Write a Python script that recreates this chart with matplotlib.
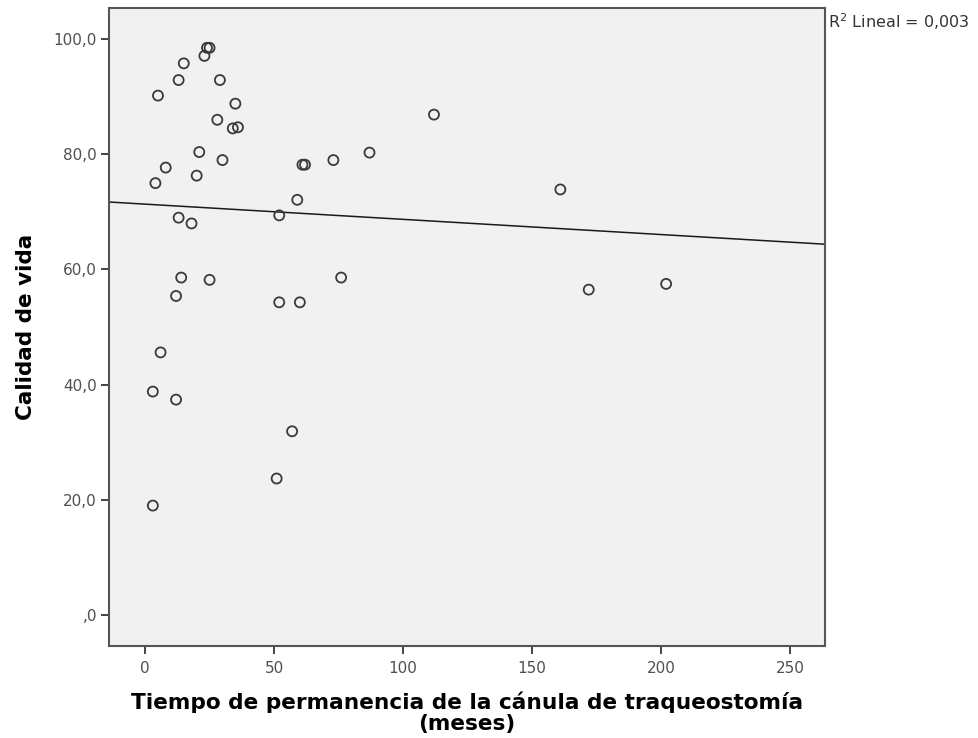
import numpy as np
import matplotlib
matplotlib.use("Agg")
import matplotlib.pyplot as plt
from matplotlib.ticker import FuncFormatter

# months with the cannula vs. quality-of-life score
months = [5, 13, 15, 23, 24, 25, 29, 35, 28, 34,
          36, 21, 8, 30, 20, 4, 13, 18, 52, 59,
          61, 62, 73, 87, 112, 161, 172, 202, 14, 25,
          12, 52, 60, 76, 6, 3, 12, 57, 51, 3]
quality = [90.2, 92.9, 95.8, 97.1, 98.5, 98.5, 92.9, 88.8, 86.0, 84.5,
           84.7, 80.4, 77.7, 79.0, 76.3, 75.0, 69.0, 68.0, 69.4, 72.1,
           78.2, 78.2, 79.0, 80.3, 86.9, 73.9, 56.5, 57.5, 58.6, 58.2,
           55.4, 54.3, 54.3, 58.6, 45.6, 38.8, 37.4, 31.9, 23.7, 19.0]

# linear fit reported by the stats package
fit_intercept = 71.35
fit_slope = -0.0264
fit_r2 = "0,003"

x_ticks = [0, 50, 100, 150, 200, 250]
y_ticks = [0, 20, 40, 60, 80, 100]

W, H = 979, 738
fig = plt.figure(figsize=(W / 100, H / 100), dpi=100)
ax = fig.add_axes([109.5 / W, 1 - 645.5 / H, (825 - 109.5) / W, (645.5 - 7.5) / H])
ax.set_facecolor("#f1f1f1")

ax.scatter(months, quality, s=52, facecolors="none", edgecolors="#3a3a3a",
           linewidths=1.3, zorder=3)

xlim = (-13.8, 263.6)
xs = np.array(xlim)
ax.plot(xs, fit_intercept + fit_slope * xs, color="#1a1a1a", lw=1.1, zorder=2)

ax.set_xlim(*xlim)
ax.set_ylim(-5.3, 105.5)
ax.set_xticks(x_ticks)
ax.set_yticks(y_ticks)

def comma_fmt(v, pos):
    s = f"{v:.1f}".replace(".", ",")
    return s[1:] if s.startswith("0,") else s

ax.yaxis.set_major_formatter(FuncFormatter(comma_fmt))
ax.tick_params(direction="out", length=6, width=1.4, color="#444444",
               labelcolor="#505050", labelsize=11, pad=3)
ax.tick_params(axis="x", pad=5)

for sp in ax.spines.values():
    sp.set_color("#555555")
    sp.set_linewidth(1.5)

ax.set_xlabel("Tiempo de permanencia de la cánula de traqueostomía\n(meses)",
              fontsize=15.6, fontweight="bold", linespacing=1.1, labelpad=11)
ax.set_ylabel("Calidad de vida", fontsize=15.5, fontweight="bold", labelpad=13)

fig.text(828 / W, 1 - 22 / H, "R$^2$ Lineal = " + fit_r2, fontsize=11.5,
         color="#333333", va="center", ha="left")

fig.savefig("out.png", dpi=100, facecolor="white")
